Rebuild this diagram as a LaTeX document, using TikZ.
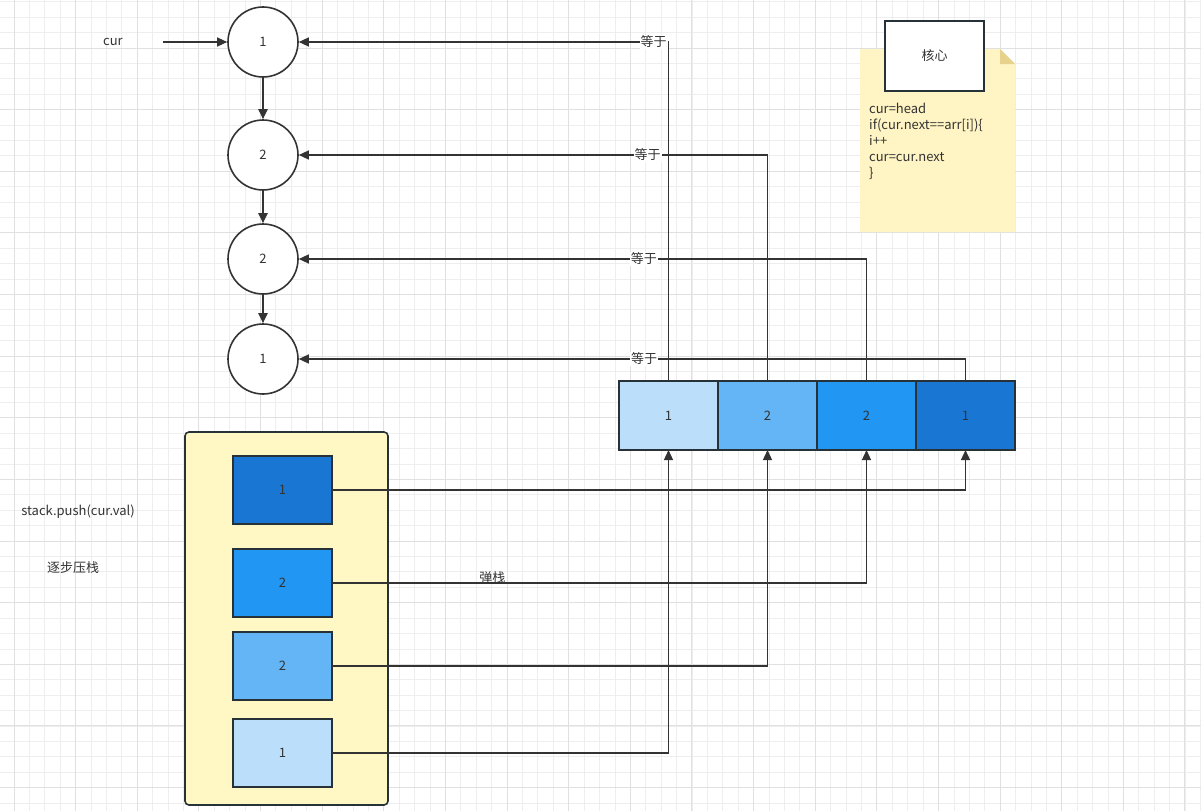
\documentclass[tikz,border=0pt]{standalone}
\usepackage{fontspec}
\setmainfont{Noto Sans CJK SC}
\usetikzlibrary{arrows.meta,positioning}
\definecolor{Tinta}{HTML}{333333}
\definecolor{Borde}{HTML}{263238}
\definecolor{RejaMenor}{HTML}{EEEEEE}
\definecolor{RejaMayor}{HTML}{E0E0E0}
\definecolor{AzulA}{HTML}{BBDEFB}
\definecolor{AzulB}{HTML}{64B5F6}
\definecolor{AzulC}{HTML}{2196F3}
\definecolor{AzulD}{HTML}{1976D2}
\definecolor{Pila}{HTML}{FFF8C4}
\definecolor{Nota}{HTML}{FFF4C3}
\definecolor{Pliegue}{HTML}{E6D28C}

\begin{document}
\begin{tikzpicture}[x=1pt,y=-1pt,
        every node/.style={font=\fontsize{13pt}{16pt}\selectfont,text=Tinta},
        listnode/.style={circle,draw=Tinta,line width=1.6pt,fill=white,minimum size=70pt,inner sep=0pt},
        cell/.style={draw=Borde,line width=1.6pt,minimum width=99pt,minimum height=69pt,outer sep=0pt,inner sep=0pt},
        link/.style={-{Triangle[length=10pt,width=9pt]},line width=1.3pt,draw=Tinta},
        step link/.style={link,line width=2pt},
        tag/.style={fill=white,inner sep=1pt}]
        % background grid
        \useasboundingbox (0,0) rectangle (1201,811);
        \fill[white] (0,0) rectangle (1201,811);
        \foreach \i in {0,...,78} \draw[RejaMenor,line width=1pt] ({-1.4+\i*15.41},0) -- ++(0,811);
        \foreach \i in {0,...,52} \draw[RejaMenor,line width=1pt] (0,{1.77+\i*15.41}) -- ++(1201,0);
        \foreach \i in {0,...,19} \draw[RejaMayor,line width=1pt] ({14+\i*61.63},0) -- ++(0,811);
        \foreach \i in {0,...,12} \draw[RejaMayor,line width=1pt] (0,{48+\i*61.63}) -- ++(1201,0);
        % linked list
        \node[listnode] (c1) at (263,42) {1};
        \node[listnode] (c2) at (263,155) {2};
        \node[listnode] (c3) at (263,259) {2};
        \node[listnode] (c4) at (263,359) {1};
        \draw[step link] (c1) -- (c2);
        \draw[step link] (c2) -- (c3);
        \draw[step link] (c3) -- (c4);
        \node (cur) at (113,42) {cur};
        \coordinate (curtail) at (163,42);
        \draw[link] (curtail) -- (c1);
        % array
        \node[cell,fill=AzulA] (a1) at (668.5,415.5) {1};
        \node[cell,fill=AzulB,right=0pt of a1] (a2) {2};
        \node[cell,fill=AzulC,right=0pt of a2] (a3) {2};
        \node[cell,fill=AzulD,right=0pt of a3] (a4) {1};
        \draw[link] (a1.north) |- node[tag,pos=0.52] (eq1) {等于} (c1.east);
        \draw[link] (a2.north) |- node[tag,pos=0.628] (eq2) {等于} (c2.east);
        \draw[link] (a3.north) |- node[tag,pos=0.696] (eq3) {等于} (c3.east);
        \draw[link] (a4.north) |- node[tag,pos=0.741] (eq4) {等于} (c4.east);
        % stack
        \draw[Borde,line width=1.6pt,fill=Pila,rounded corners=4pt] (185,432) rectangle (388,805);
        \node[cell,fill=AzulD,minimum height=68pt] (s1) at (282.5,490) {1};
        \node[cell,fill=AzulC,minimum height=68pt] (s2) at (282.5,583) {2};
        \node[cell,fill=AzulB,minimum height=68pt] (s3) at (282.5,666) {2};
        \node[cell,fill=AzulA,minimum height=68pt] (s4) at (282.5,753) {1};
        \draw[link] (s1.east) -| (a4.south);
        \draw[link] (s2.east) -| node[pos=0.15,yshift=5pt] (pop) {弹栈} (a3.south);
        \draw[link] (s3.east) -| (a2.south);
        \draw[link] (s4.east) -| (a1.south);
        \node (push) at (78,512) {stack.push(cur.val)};
        \node (steps) at (73,568) {逐步压栈};
        % note
        \fill[Nota] (860,49) -- (1000,49) -- (1015,64) -- (1015,232) -- (860,232) -- cycle;
        \fill[Pliegue] (1000,49) -- (1015,64) -- (1000,64) -- cycle;
        \node[draw=Borde,line width=1.6pt,fill=white,minimum width=99pt,minimum height=70pt] (core) at (934.5,56) {核心};
        \node[anchor=north west,align=left,inner sep=0pt] (code) at (869,103) {cur=head\\if(cur.next==arr[i])\{\\i++\\cur=cur.next\\\}};
\end{tikzpicture}
\end{document}
